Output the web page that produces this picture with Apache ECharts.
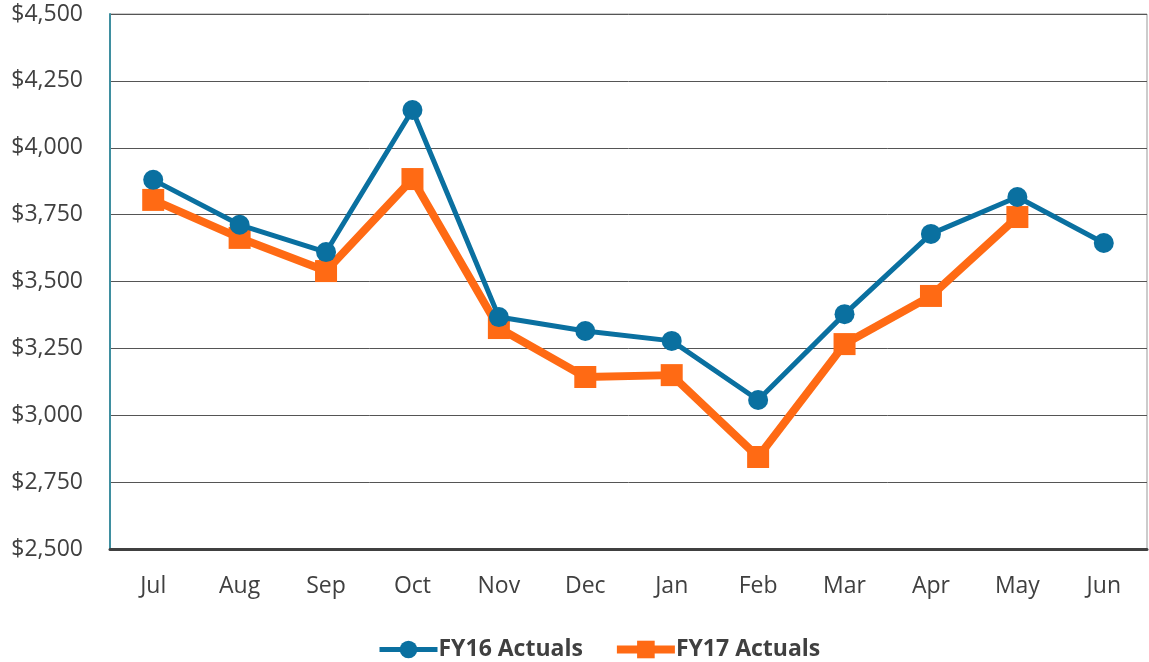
<!DOCTYPE html>
<html><head><meta charset="utf-8">
<script src="https://cdn.jsdelivr.net/npm/echarts@6/dist/echarts.min.js"></script>
<style>html,body{margin:0;padding:0;background:#fff}#c{width:1149px;height:662px}</style>
</head><body><div id="c"></div>
<script>
const categories = ['Jul','Aug','Sep','Oct','Nov','Dec','Jan','Feb','Mar','Apr','May','Jun'];
const fy16 = [3880, 3712, 3610, 4141, 3367, 3315, 3278, 3057, 3378, 3678, 3816, 3644];
const fy17 = [3805, 3663, 3539, 3883, 3326, 3143, 3150, 2844, 3266, 3446, 3741, null];
const yMin = 2500, yMax = 4500, yStep = 250;

const chart = echarts.init(document.getElementById('c'));
const font = '"Open Sans", "Noto Sans", sans-serif';
chart.setOption({
  animation: false,
  grid: {left: 110, right: 2, top: 14, bottom: 113, show: true, borderColor: '#999', borderWidth: 1},
  legend: {
    top: 633, left: 372, itemGap: 30, itemWidth: 58, itemHeight: 22,
    textStyle: {fontFamily: font, fontSize: 23, fontWeight: 'bold', color: '#404040', padding: [0,0,0,-4]},
    data: [
      {name: 'FY16 Actuals', lineStyle: {width: 5, color: '#0a70a0'}},
      {name: 'FY17 Actuals', lineStyle: {width: 8, color: '#ff6a14'}}
    ]
  },
  xAxis: {
    type: 'category', data: categories, boundaryGap: true,
    axisLine: {lineStyle: {color: '#404040', width: 3}},
    axisTick: {show: false},
    axisLabel: {fontFamily: font, fontSize: 23, color: '#404040', margin: 26}
  },
  yAxis: {
    type: 'value', min: yMin, max: yMax, interval: yStep,
    axisLine: {show: true, lineStyle: {color: '#3f8fa0', width: 2}},
    axisTick: {show: false},
    splitLine: {lineStyle: {color: '#555', width: 1}},
    axisLabel: {fontFamily: font, fontSize: 23, color: '#404040', margin: 27,
      formatter: v => '$' + v.toLocaleString('en-US')}
  },
  series: [
    {name: 'FY16 Actuals', type: 'line', data: fy16, symbol: 'circle', symbolSize: 20,
     lineStyle: {color: '#0a70a0', width: 5}, itemStyle: {color: '#0a70a0'}, z: 3},
    {name: 'FY17 Actuals', type: 'line', data: fy17, symbol: 'rect', symbolSize: 22,
     lineStyle: {color: '#ff6a14', width: 8}, itemStyle: {color: '#ff6a14'}, z: 2}
  ]
});
</script></body></html>
